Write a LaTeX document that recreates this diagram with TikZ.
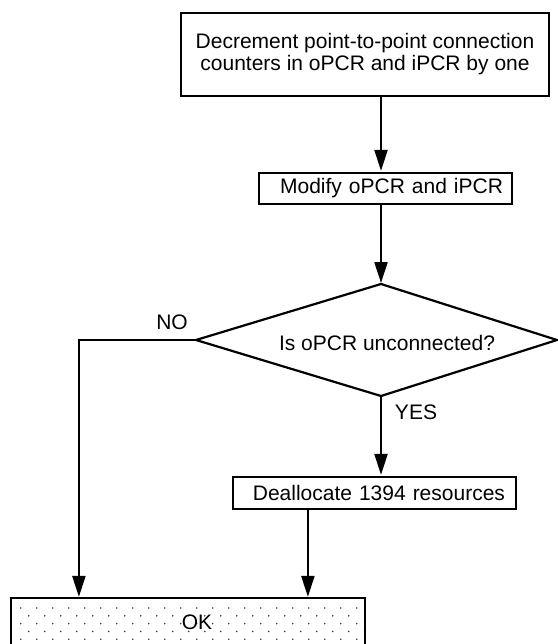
\documentclass[tikz,border=0pt]{standalone}
\usepackage{fontspec}
\setmainfont{Liberation Sans}
\usetikzlibrary{arrows.meta,calc}

\begin{document}
\begin{tikzpicture}[x=1pt,y=-1pt,line width=2.2pt,
  font=\fontsize{21}{22}\selectfont,
  box/.style={draw,rectangle,inner sep=0pt},
  flow/.style={-{Triangle[length=21pt,width=13pt]},shorten >=1pt},
  dotfill/.style={fill=black!75}]
\useasboundingbox (0,0) rectangle (557,644);

% process boxes
\node[box,minimum width=368pt,minimum height=83pt,align=center] (dec) at (365,54.5)
  {Decrement point-to-point connection\\counters in oPCR and iPCR by one};
\node[box,minimum height=31pt,text width=235pt,inner xsep=9pt,align=right] (mod) at (385.5,188.5)
  {Modify oPCR and iPCR};

% decision
\coordinate (dtop) at (381,284);
\coordinate (dright) at (557,340);
\coordinate (dbot) at (381,396);
\coordinate (dleft) at (196,340);
\draw[line join=miter] (dtop) -- (dright) -- (dbot) -- (dleft) -- cycle;
\node (q) at (387,343) {Is oPCR unconnected?};
\node (no) at (172,322.5) {NO};
\node (yes) at (416,412.5) {YES};

\node[box,minimum height=32pt,text width=261pt,inner xsep=11pt,align=right] (dea) at (374.5,493)
  {Deallocate 1394 resources};

% terminal box with dotted fill
\node[minimum width=352pt,minimum height=47pt,inner sep=0pt] (ok) at (188,622.5) {};
\begin{scope}
  \clip (ok.north west) rectangle (ok.south east);
  \foreach \r in {0,...,5}{
    \pgfmathsetmacro\yy{608+7.8*\r}
    \pgfmathsetmacro\xo{mod(\r,2)*8}
    \foreach \c in {0,...,22}{
      \fill[dotfill] (20.7+\xo+16*\c,\yy) circle (0.9pt);
    }
  }
\end{scope}
\draw (ok.north west) rectangle (ok.south east);
\node (oktext) at (197,622.5) {OK};

% connectors
\draw[flow] (dec.south -| dtop) -- (mod.north -| dtop);
\draw[flow] (mod.south -| dtop) -- (dtop);
\draw[flow] (dleft) -| ($(ok.north west)+(68,0)$);
\draw[flow] (dbot) -- (dbot |- dea.north);
\draw[flow] ([xshift=76pt]dea.south west) -- ([xshift=76pt]dea.south west |- ok.north);
\end{tikzpicture}
\end{document}
